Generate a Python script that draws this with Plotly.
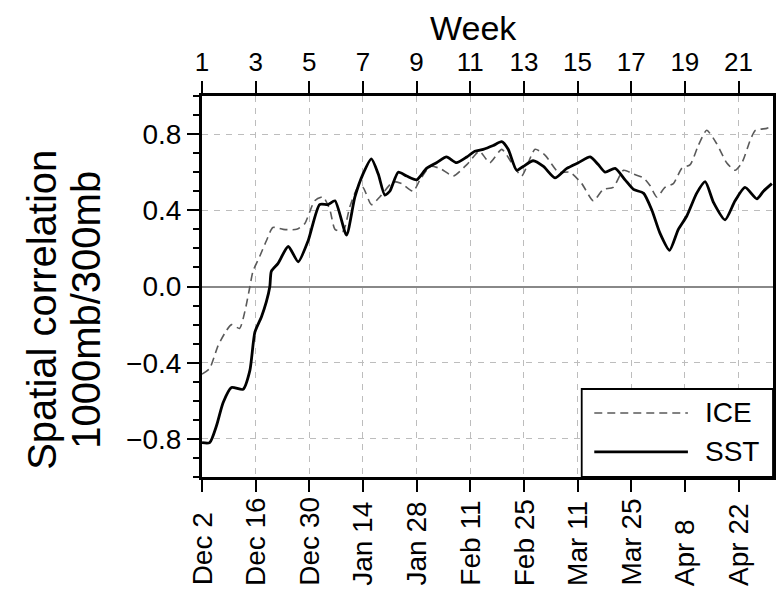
import plotly.graph_objects as go

# ---- data (day index from Dec 2) ----
sst_day = [0, 2.0, 3.8, 5.5, 7.7, 10.7, 12.5, 13.8, 15.5, 16.8, 17.7, 18.1, 19.8, 22.5, 25.1, 27.7,
           30.7, 32.9, 34.7, 37.7, 39.9, 42.0, 44.2, 46.0, 47.7, 49.0, 51.2, 53.4, 56.0, 58.6, 61.2,
           63.8, 66.4, 69.1, 71.2, 73.4, 76.0, 78.2, 79.9, 82.1, 83.8, 86.4, 89.1, 92.1, 95.2, 98.2,
           101.3, 103.4, 105.2, 107.8, 110.4, 112.6, 115.2, 117.4, 119.5, 122.0, 124.3, 126.5, 129.1,
           131.3, 133.5, 136.5, 139.1, 141.7, 144.8, 146.5, 148.7]
sst_val = [-0.82, -0.82, -0.73, -0.61, -0.53, -0.54, -0.44, -0.24, -0.16, -0.08, 0.0, 0.08, 0.12, 0.21,
           0.13, 0.24, 0.43, 0.43, 0.45, 0.27, 0.47, 0.59, 0.67, 0.59, 0.48, 0.50, 0.60, 0.58, 0.56, 0.62,
           0.65, 0.68, 0.65, 0.68, 0.71, 0.72, 0.74, 0.76, 0.72, 0.61, 0.63, 0.66, 0.63, 0.57, 0.62, 0.65,
           0.68, 0.64, 0.60, 0.62, 0.56, 0.51, 0.49, 0.40, 0.28, 0.19, 0.30, 0.37, 0.49, 0.55, 0.44, 0.35,
           0.45, 0.52, 0.46, 0.50, 0.54]

ice_day = [0, 2.0, 4.2, 6.4, 7.7, 9.8, 11.2, 12.5, 13.3, 15.1, 16.8, 18.5, 21.2, 24.7, 26.8, 29.4,
           31.6, 33.4, 34.7, 36.8, 38.6, 40.7, 42.0, 44.2, 46.4, 49.9, 52.1, 55.1, 56.9, 59.5, 62.1,
           65.6, 69.1, 71.7, 72.5, 75.1, 78.2, 80.8, 83.4, 86.9, 89.5, 93.0, 96.0, 99.1, 102.1, 104.7,
           107.3, 110.0, 112.6, 115.2, 116.9, 118.7, 120.8, 123.0, 125.2, 127.4, 129.5, 131.7, 134.3,
           136.9, 139.1, 140.9, 143.1, 144.4, 147.4, 148.7]
ice_val = [-0.46, -0.43, -0.31, -0.23, -0.20, -0.22, -0.13, 0.0, 0.08, 0.16, 0.24, 0.31, 0.30, 0.30,
           0.33, 0.45, 0.47, 0.40, 0.30, 0.29, 0.42, 0.52, 0.52, 0.43, 0.47, 0.55, 0.54, 0.50, 0.56, 0.63,
           0.62, 0.58, 0.64, 0.70, 0.71, 0.65, 0.72, 0.65, 0.58, 0.72, 0.69, 0.60, 0.60, 0.54, 0.45, 0.51,
           0.52, 0.61, 0.59, 0.57, 0.53, 0.47, 0.52, 0.54, 0.62, 0.64, 0.74, 0.82, 0.75, 0.65, 0.61, 0.65,
           0.77, 0.82, 0.83, 0.84]

date_ticks = [0, 14, 28, 42, 56, 70, 84, 98, 112, 126, 140]
date_labels = ["Dec 2", "Dec 16", "Dec 30", "Jan 14", "Jan 28", "Feb 11", "Feb 25",
               "Mar 11", "Mar 25", "Apr 8", "Apr 22"]
week_labels = ["1", "3", "5", "7", "9", "11", "13", "15", "17", "19", "21"]

x_range = [0, 149]
y_range = [-1.0, 1.0]

FONT = "Liberation Sans, Arial, sans-serif"

fig = go.Figure()
fig.add_trace(go.Scatter(x=ice_day, y=ice_val, mode="lines", name="ICE",
                         line=dict(color="#5a5a5a", width=1.6, dash="8px,5px", shape="spline", smoothing=0.6),
                         showlegend=False))
fig.add_trace(go.Scatter(x=sst_day, y=sst_val, mode="lines", name="SST",
                         line=dict(color="black", width=2.8, shape="spline", smoothing=0.6),
                         showlegend=False))
# dummy trace to activate the top (week) axis
fig.add_trace(go.Scatter(x=[x_range[0]], y=[None], xaxis="x2", mode="lines",
                         showlegend=False, hoverinfo="skip"))

grid = dict(gridcolor="#bdbdbd", gridwidth=1, griddash="6px,6px")

fig.update_layout(
    width=783, height=592,
    margin=dict(l=202, r=10, t=96, b=115, autoexpand=False),
    paper_bgcolor="white", plot_bgcolor="white",
    font=dict(family=FONT, color="black", size=28),
    xaxis=dict(range=x_range, tickmode="array", tickvals=date_ticks, showticklabels=False,
               ticks="outside", ticklen=12, tickwidth=2, tickcolor="black",
               showline=True, linecolor="black", linewidth=3, mirror=True,
               showgrid=True, zeroline=False, **grid),
    xaxis2=dict(range=x_range, overlaying="x", side="top", anchor="y",
                tickmode="array", tickvals=date_ticks, ticktext=week_labels,
                ticks="outside", ticklen=12, tickwidth=2, tickcolor="black",
                tickfont=dict(size=26, family=FONT),
                showline=True, linecolor="black", linewidth=3,
                showgrid=False, zeroline=False),
    yaxis=dict(range=y_range, tickmode="linear", tick0=-0.8, dtick=0.4, tickformat=".1f",
               ticks="outside", ticklen=12, tickwidth=2, tickcolor="black",
               tickfont=dict(size=28, family=FONT),
               minor=dict(tickmode="linear", tick0=0, dtick=0.1, ticks="outside", ticklen=6,
                          tickwidth=2, tickcolor="black", showgrid=False),
               showline=True, linecolor="black", linewidth=3, mirror=True,
               showgrid=True, zeroline=True, zerolinecolor="#888888", zerolinewidth=2, **grid),
)

ann = []
# bottom date labels (bottom-aligned, rotated)
for d, lab in zip(date_ticks, date_labels):
    ann.append(dict(x=d, y=-0.291, xref="x", yref="paper", text=lab, showarrow=False,
                    textangle=-90, xanchor="center", yanchor="bottom",
                    font=dict(size=28, family=FONT, color="black")))
# top title
ann.append(dict(x=0.476, y=1.178, xref="paper", yref="paper", text="Week", showarrow=False,
                xanchor="center", yanchor="middle", font=dict(size=34, family=FONT)))
# y title (two lines)
ann.append(dict(x=-0.2807, y=0.438, xref="paper", yref="paper", text="Spatial correlation",
                showarrow=False, textangle=-90, xanchor="center", yanchor="middle",
                font=dict(size=40, family=FONT)))
ann.append(dict(x=-0.2037, y=0.438, xref="paper", yref="paper", text="1000mb/300mb",
                showarrow=False, textangle=-90, xanchor="center", yanchor="middle",
                font=dict(size=40, family=FONT)))
# legend text
ann.append(dict(x=0.877, y=0.168, xref="paper", yref="paper", text="ICE", showarrow=False,
                xanchor="left", yanchor="middle", font=dict(size=28, family=FONT)))
ann.append(dict(x=0.877, y=0.066, xref="paper", yref="paper", text="SST", showarrow=False,
                xanchor="left", yanchor="middle", font=dict(size=28, family=FONT)))
fig.update_layout(annotations=ann)

shapes = [
    dict(type="rect", xref="paper", yref="paper", x0=0.665, x1=1.0, y0=0.0, y1=0.231,
         line=dict(color="black", width=1.8), fillcolor="white", layer="above"),
    dict(type="line", xref="paper", yref="paper", x0=0.687, x1=0.851, y0=0.168, y1=0.168,
         line=dict(color="#5a5a5a", width=1.6, dash="8px,5px"), layer="above"),
    dict(type="line", xref="paper", yref="paper", x0=0.687, x1=0.851, y0=0.066, y1=0.066,
         line=dict(color="black", width=2.8), layer="above"),
]
fig.update_layout(shapes=shapes)

fig.write_html("out.html")
